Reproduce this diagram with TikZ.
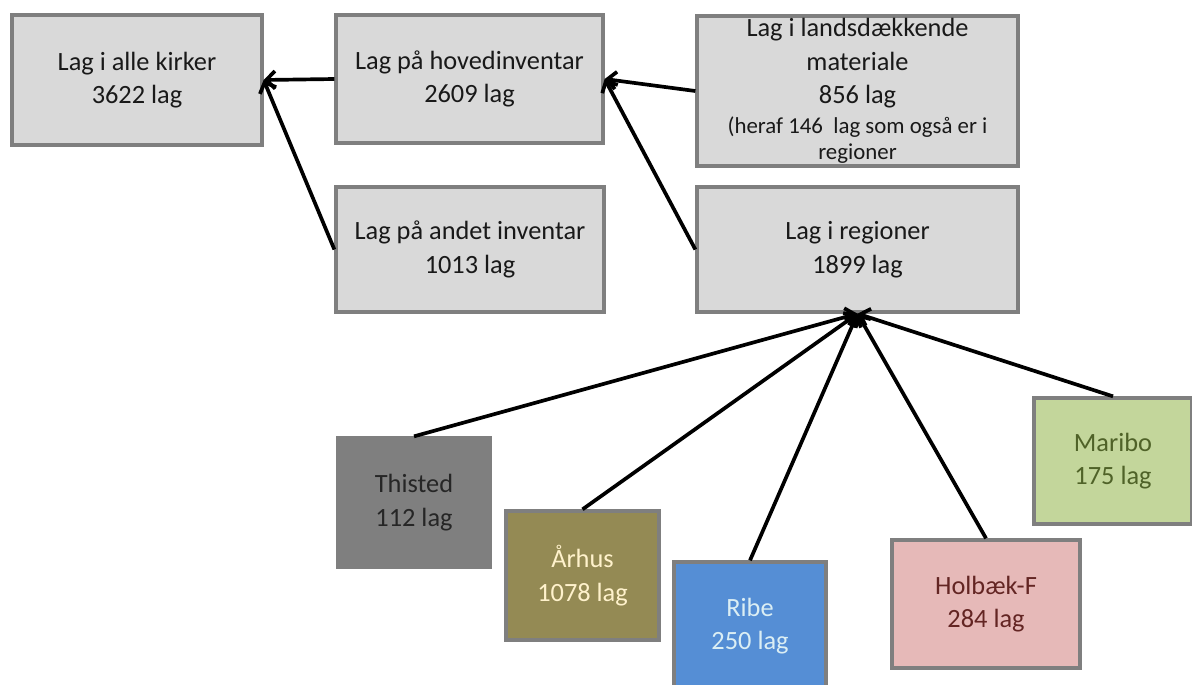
\documentclass[tikz,border=0pt]{standalone}
\usepackage{fontspec}
\setmainfont{Carlito}
\usetikzlibrary{arrows.meta}
\definecolor{boxgrey}{HTML}{D9D9D9}
\definecolor{boxline}{HTML}{7F7F7F}
\definecolor{thistedfill}{HTML}{7F7F7F}
\definecolor{aarhusfill}{HTML}{948A54}
\definecolor{ribefill}{HTML}{558ED5}
\definecolor{holbaekfill}{HTML}{E6B9B8}
\definecolor{maribofill}{HTML}{C3D69B}
\definecolor{thistedtext}{HTML}{262626}
\definecolor{aarhustext}{HTML}{FFF2CC}
\definecolor{ribetext}{HTML}{DBEEF4}
\definecolor{holbaektext}{HTML}{632523}
\definecolor{maribotext}{HTML}{4F6228}
\begin{document}
\begin{tikzpicture}[
                                > = {Straight Barb[length=5pt,width=10pt]},
                                x = 0.02cm,
                                y = -0.02cm,
                                line width = 2.1pt,
                                font = \fontsize{15}{19}\selectfont
                                ]

                                \tikzstyle{box}=[
                                        draw = boxline,
                                        rectangle,
                                        line width = 1.9pt,
                                        fill = boxgrey,
                                        text = black!90,
                                        align = center,
                                        inner sep = 0pt
                                ]

                                \useasboundingbox (0,0) rectangle (1192,684);

                                \node[box, minimum width=5cm, minimum height=2.6cm] (1) at (137,80) {Lag i alle kirker\\3622 lag};
                                \node[box, minimum width=5.34cm, minimum height=2.56cm] (2) at (469.5,79) {Lag på hovedinventar\\2609 lag};
                                \node[box, minimum width=6.42cm, minimum height=3cm] (3) at (857.5,91) {Lag i landsdækkende\\materiale\\856 lag\\[-2pt]{\fontsize{13}{15}\selectfont (heraf 146 ~lag som også er i}\\[-4pt]{\fontsize{13}{15}\selectfont regioner}};
                                \node[box, minimum width=5.36cm, minimum height=2.5cm] (4) at (470,249.5) {Lag på andet inventar\\1013 lag};
                                \node[box, minimum width=6.42cm, minimum height=2.5cm] (5) at (857.5,249.5) {Lag i regioner\\1899 lag};
                                \node[box, fill=thistedfill, text=thistedtext, minimum width=3.04cm, minimum height=2.58cm] (6) at (414,502.5) {Thisted\\112 lag};
                                \node[box, fill=aarhusfill, text=aarhustext, minimum width=3.06cm, minimum height=2.58cm] (7) at (582.5,575.5) {Århus\\1078 lag};
                                \node[box, fill=ribefill, text=ribetext, minimum width=3.04cm, minimum height=2.56cm] (8) at (750,626) {Ribe\\250 lag};
                                \node[box, fill=holbaekfill, text=holbaektext, minimum width=3.76cm, minimum height=2.56cm] (9) at (986,604) {Holbæk-F\\284 lag};
                                \node[box, fill=maribofill, text=maribotext, minimum width=3.16cm, minimum height=2.52cm] (10) at (1113,461) {Maribo\\175 lag};

                                \draw[->] (2.west) -- (1.east);
                                \draw[->] (4.west) -- (1.east);
                                \draw[->] (3.west) -- (2.east);
                                \draw[->] (5.west) -- (2.east);
                                \draw[->] (6.north) -- (5.south);
                                \draw[->] (7.north) -- (5.south);
                                \draw[->] (8.north) -- (5.south);
                                \draw[->] (9.north) -- (5.south);
                                \draw[->] (10.north) -- (5.south);
\end{tikzpicture}
\end{document}
